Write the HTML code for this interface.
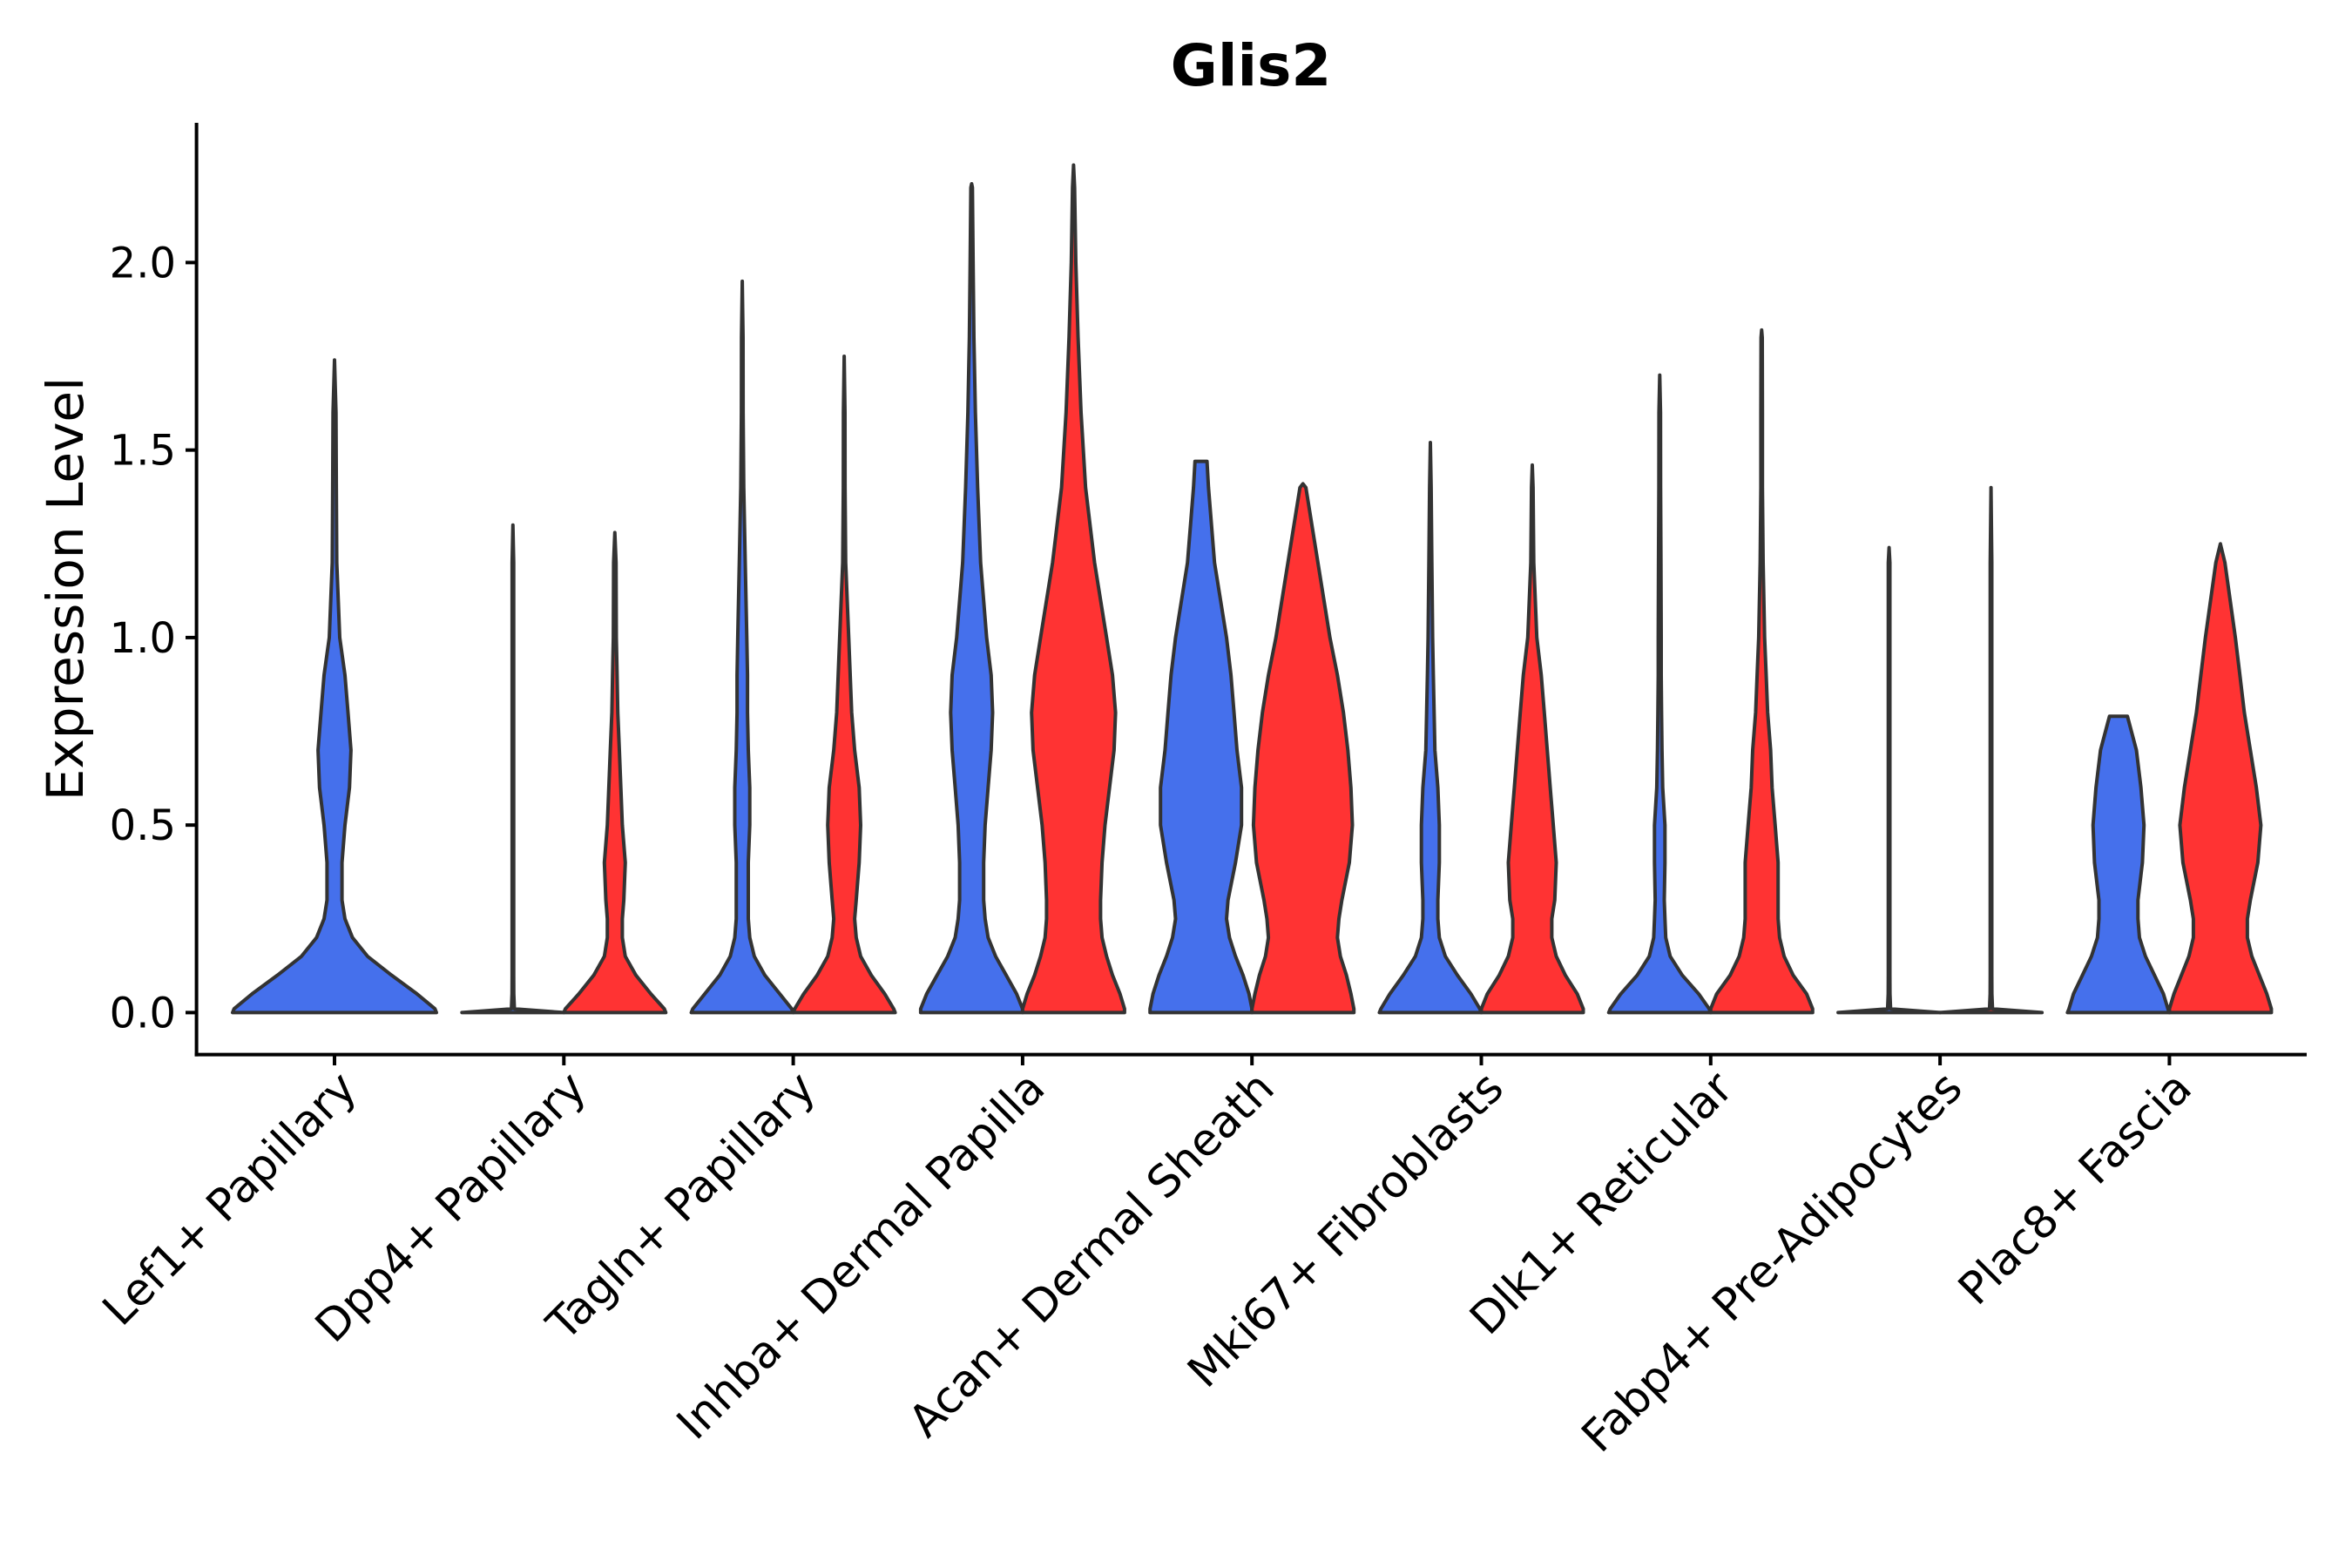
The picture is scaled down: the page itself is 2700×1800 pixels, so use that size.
<!DOCTYPE html>
<html><head><meta charset="utf-8"><style>
html,body{margin:0;padding:0;background:#fff;}
svg{display:block;font-family:"DejaVu Sans","Liberation Sans",sans-serif;}
</style></head><body>
<svg id="chart" width="2700" height="1800" viewBox="0 0 2700 1800">
<text x="1436" y="98" font-size="66" font-weight="bold" text-anchor="middle">Glis2</text>
<text transform="translate(95,676) rotate(-90)" font-size="58" text-anchor="middle">Expression Level</text>
<g id="marks"></g>
<g id="axes"></g>
</svg>
<script>
const categories = ["Lef1+ Papillary","Dpp4+ Papillary","Tagln+ Papillary","Inhba+ Dermal Papilla","Acan+ Dermal Sheath","Mki67+ Fibroblasts","Dlk1+ Reticular","Fabp4+ Pre-Adipocytes","Plac8+ Fascia"];
const yTicks = [0, 0.5, 1.0, 1.5, 2.0];
const yTickLabels = ["0.0","0.5","1.0","1.5","2.0"];
const yGrid = [0,0.01,0.05,0.1,0.15,0.2,0.25,0.3,0.4,0.5,0.6,0.7,0.8,0.9,1.0,1.2,1.4,1.6,1.8,2.0,2.2];
const maxA = [1.74,1.30,1.95,2.21,1.47,1.52,1.70,1.24,0.79];
const maxB = [null,1.28,1.75,2.26,1.41,1.46,1.82,1.40,1.25];
const topA = [0,0,0,0,4,0,0,0,6];
const topB = [0,0,0,0,0,0,0,0,0];
const densA = [
 [68,67,55,38,22,12,7,5,5,7,10,11,9,7,3.5,1.5,1.2,1.0],
 [34,1,0.6,0.5,0.5,0.5,0.5,0.5,0.5,0.5,0.5,0.5,0.5,0.5,0.5,0.5],
 [34,33,25,15,8,5,4,4,4,5,5,4,3.5,3.5,3,2,1,0.6,0.5],
 [34,34,30,23,16,11,9,8,8,9,11,13,14,13,10,6,4,2.5,1.5,1,0.5],
 [34,34,32,28,23,19,17,18,23,27,27,24,22,20,17,9,5],
 [34,33,27,18,10,6,5,5,6,6,5,3,2.5,2,1.5,1,0.5],
 [34,33,26,15,7,4,3.5,3,3.5,3.5,2,1.5,1.2,1,1,0.8,0.6,0.5],
 [34,1,0.6,0.5,0.5,0.5,0.5,0.5,0.5,0.5,0.5,0.5,0.5,0.5,0.5,0.5],
 [34,33,30,24,18,14,13,13,16,17,15,12]
];
const densB = [
 null,
 [34,33,24,14,7,5,5,6,7,5,4,3,2,1.5,1,0.8],
 [34,33,27,18,11,8,7,8,10,11,10,7,5,4,3,1,0.6,0.5],
 [34,34,31,26,22,19,18,18,19,21,24,27,28,26,22,14,8,5,3,1.5,0.7],
 [34,34,32,29,25,23,24,26,31,33,32,30,27,23,18,10,2],
 [34,34,30,22,16,13,13,15,16,14,12,10,8,6,3,1,0.5],
 [34,34,30,21,15,12,11,11,11,9,7,6,4,3,2,1,0.5,0.5,0.4],
 [34,1,0.6,0.5,0.5,0.5,0.5,0.5,0.5,0.5,0.5,0.5,0.5,0.5,0.5,0.5],
 [34,34,31,26,21,18,18,20,25,27,24,20,16,13,10,3]
];
const X0 = 384, DX = 263.3, Y0 = 1162.4, PX = 430.5;
const xScale = i => X0 + i*DX;
const yScale = v => Y0 - v*PX;
const NS = "http://www.w3.org/2000/svg";
const marks = document.getElementById('marks');
const axes = document.getElementById('axes');

function violin(cx, halfW, dens, maxV, topW, fill, name){
  const m = Math.max(...dens);
  const pts = [];
  for(let k=0;k<yGrid.length && k<dens.length;k++){
    if(yGrid[k] >= maxV) break;
    pts.push([yGrid[k], dens[k]/m*halfW]);
  }
  pts.push([maxV, topW/34*halfW]);
  let d = "";
  pts.forEach((p,i)=>{ d += (i?"L":"M") + (cx+p[1]).toFixed(1)+","+yScale(p[0]).toFixed(1); });
  for(let i=pts.length-1;i>=0;i--){ d += "L"+(cx-pts[i][1]).toFixed(1)+","+yScale(pts[i][0]).toFixed(1); }
  d += "Z";
  const p = document.createElementNS(NS,'path');
  p.setAttribute('d', d);
  p.setAttribute('fill', fill);
  p.setAttribute('stroke', '#333');
  p.setAttribute('stroke-width', '4');
  p.setAttribute('stroke-linejoin', 'round');
  
  
  marks.appendChild(p);
}

categories.forEach((c,i)=>{
  const cx = xScale(i);
  if(densB[i]===null){
    violin(cx, 117, densA[i], maxA[i], topA[i], '#4570EC', 'violin-blue-'+i);
  } else {
    violin(cx-58.5, 58.5, densA[i], maxA[i], topA[i], '#4570EC', 'violin-blue-'+i);
    violin(cx+58.5, 58.5, densB[i], maxB[i], topB[i], '#FF3333', 'violin-red-'+i);
  }
});

function line(x1,y1,x2,y2,name){
  const l = document.createElementNS(NS,'line');
  l.setAttribute('x1',x1); l.setAttribute('y1',y1); l.setAttribute('x2',x2); l.setAttribute('y2',y2);
  l.setAttribute('stroke','#000'); l.setAttribute('stroke-width','4');
  
  
  axes.appendChild(l);
}
line(225.6,141,225.6,1212.6,'y-axis-line');
line(223.6,1210.6,2648,1210.6,'x-axis-line');
yTicks.forEach((v,i)=>{
  const y = yScale(v);
  line(213,y,225.6,y,'y-tick');
  const t = document.createElementNS(NS,'text');
  t.setAttribute('x', 202); t.setAttribute('y', y+17);
  t.setAttribute('font-size','48'); t.setAttribute('text-anchor','end');
  t.textContent = yTickLabels[i];
  
  
  axes.appendChild(t);
});
categories.forEach((c,i)=>{
  const x = xScale(i);
  line(x,1210.6,x,1223,'x-tick');
  const t = document.createElementNS(NS,'text');
  t.setAttribute('transform', 'translate('+(x+2)+',1226) rotate(-45)');
  t.setAttribute('font-size','51'); t.setAttribute('text-anchor','end');
  t.setAttribute('dominant-baseline','hanging');
  t.textContent = c;
  
  
  axes.appendChild(t);
});
</script>
</body></html>
